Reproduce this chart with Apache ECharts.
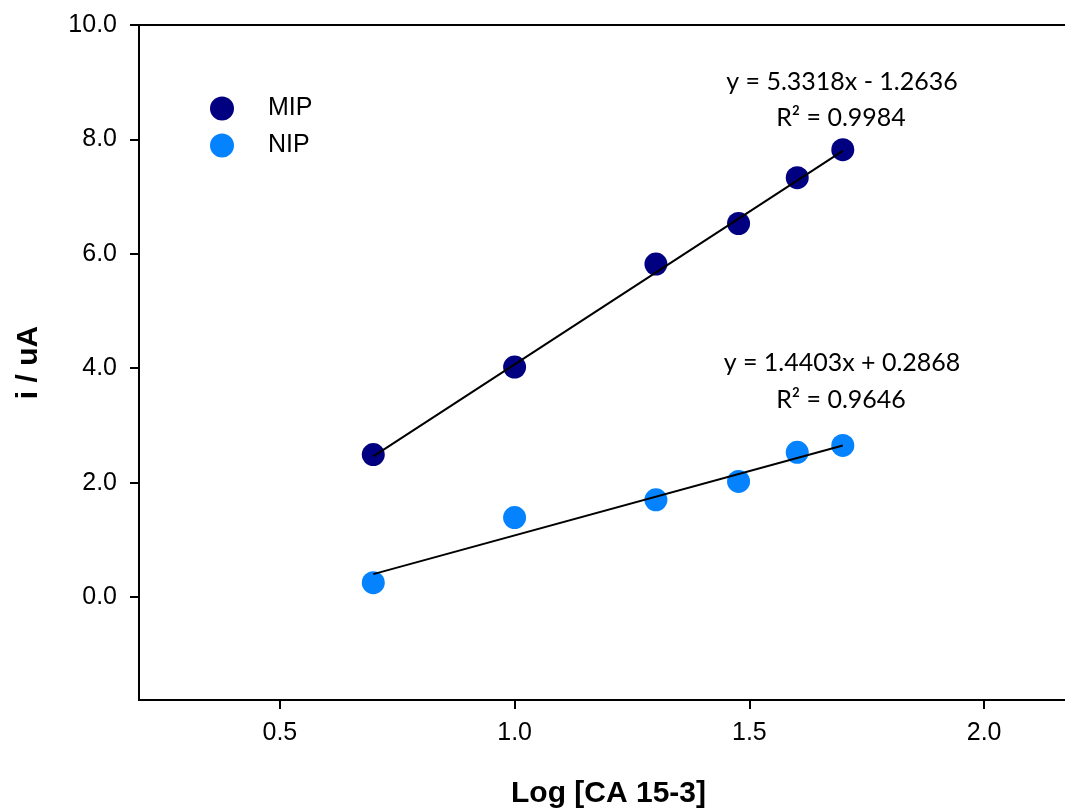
<!DOCTYPE html>
<html>
<head>
<meta charset="utf-8">
<script src="https://cdn.jsdelivr.net/npm/echarts@6/dist/echarts.min.js"></script>
<style>html,body{margin:0;padding:0;background:#fff}#c{width:1065px;height:809px}</style>
</head>
<body>
<div id="c"></div>
<script>
const logConc = [0.699, 1.0, 1.301, 1.477, 1.602, 1.699];
const mipCurrent = [2.49, 4.02, 5.82, 6.53, 7.33, 7.82];
const nipCurrent = [0.25, 1.39, 1.70, 2.02, 2.53, 2.65];
const fitX = [0.699, 1.699];
const mipFitY = [2.46, 7.80];
const nipFitY = [0.40, 2.65];
const xTicks = [0.5, 1.0, 1.5, 2.0];
const yTicks = [0, 2, 4, 6, 8, 10];
const mipEq = 'y = 5.3318x - 1.2636';
const mipR2 = 'R² = 0.9984';
const nipEq = 'y = 1.4403x + 0.2868';
const nipR2 = 'R² = 0.9646';

const chart = echarts.init(document.getElementById('c'));
const axisFont = { fontFamily: 'Liberation Sans, Arial, sans-serif', fontSize: 25, color: '#000' };
const titleFont = { fontFamily: 'Liberation Sans, Arial, sans-serif', fontSize: 30, fontWeight: 'bold', color: '#000' };
chart.setOption({
  animation: false,
  backgroundColor: '#fff',
  grid: { left: 139, top: 25, right: -13, bottom: 109, show: true, borderColor: '#000', borderWidth: 2, containLabel: false, outerBoundsMode: 'none' },
  legend: {
    orient: 'vertical', left: 205, top: 91, itemWidth: 24, itemHeight: 24, itemGap: 12,
    icon: 'circle',
    data: ['MIP', 'NIP'],
    textStyle: Object.assign({}, axisFont, { padding: [0, 0, 0, 29] })
  },
  xAxis: {
    type: 'value', min: 0.2, max: 2.2,
    name: 'Log [CA 15-3]', nameLocation: 'middle', nameGap: 79,
    nameTextStyle: titleFont,
    axisLine: { onZero: false, lineStyle: { color: '#000', width: 2 } },
    axisTick: { show: true, length: 9, inside: false, lineStyle: { color: '#000', width: 2 }, customValues: xTicks },
    axisLabel: Object.assign({}, axisFont, { margin: 21, customValues: xTicks, formatter: v => v.toFixed(1) }),
    splitLine: { show: false }
  },
  yAxis: {
    type: 'value', min: -1.8, max: 10,
    name: 'i / uA', nameLocation: 'middle', nameGap: 95, nameRotate: 90,
    nameTextStyle: titleFont,
    axisLine: { onZero: false, lineStyle: { color: '#000', width: 2 } },
    axisTick: { show: true, length: 9, inside: false, lineStyle: { color: '#000', width: 2 }, customValues: yTicks },
    axisLabel: Object.assign({}, axisFont, { margin: 22, customValues: yTicks, formatter: v => v.toFixed(1) }),
    splitLine: { show: false }
  },
  series: [
    { name: 'MIP fit', type: 'line', data: fitX.map((x, i) => [x, mipFitY[i]]), symbol: 'none', lineStyle: { color: '#000', width: 2 }, z: 3, silent: true },
    { name: 'NIP fit', type: 'line', data: fitX.map((x, i) => [x, nipFitY[i]]), symbol: 'none', lineStyle: { color: '#000', width: 2 }, z: 3, silent: true },
    { name: 'MIP', type: 'scatter', data: logConc.map((x, i) => [x, mipCurrent[i]]), symbol: 'circle', symbolSize: 23, itemStyle: { color: '#000080', opacity: 1 }, z: 2 },
    { name: 'NIP', type: 'scatter', data: logConc.map((x, i) => [x, nipCurrent[i]]), symbol: 'circle', symbolSize: 23, itemStyle: { color: '#0583FF', opacity: 1 }, z: 2 }
  ]
});

const eqFont = '25px Lato, "Open Sans", sans-serif';
const items = [
  [mipEq, 842, 82], [mipR2, 841, 118],
  [nipEq, 842, 363], [nipR2, 841, 400]
];
chart.setOption({
  graphic: items.map(([t, x, y]) => ({
    type: 'text', x: x, y: y,
    style: { text: t, font: eqFont, fill: '#000', align: 'center', verticalAlign: 'middle' }
  }))
});
</script>
</body>
</html>
